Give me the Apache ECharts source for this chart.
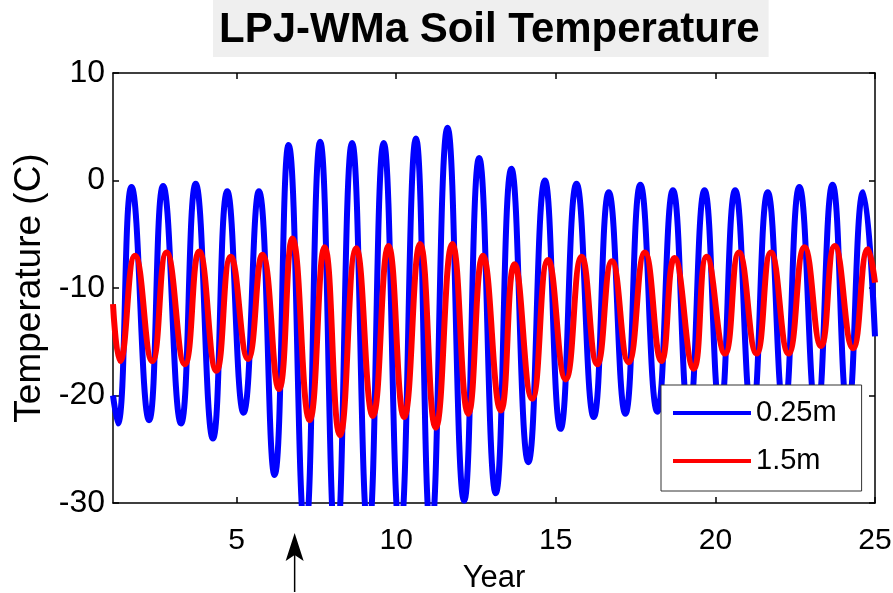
<!DOCTYPE html>
<html>
<head>
<meta charset="utf-8">
<title>LPJ-WMa Soil Temperature</title>
<script src="https://cdn.jsdelivr.net/npm/echarts@6/dist/echarts.min.js"></script>
<style>
  html, body { margin: 0; padding: 0; background: #ffffff; }
  #chart { width: 893px; height: 593px; }
</style>
</head>
<body>
<div id="chart"></div>
<script>
// Seasonal extremes (warmest / coldest points) of soil temperature, in degrees C,
// with the first and last sample of the record.
const shallowYears = [1.13, 1.28, 1.71, 2.26, 2.70, 3.26, 3.72, 4.26, 4.71, 5.22, 5.70, 6.19, 6.63,
  7.15, 7.62, 8.12, 8.62, 9.13, 9.61, 10.12, 10.62, 11.09, 11.61, 12.13, 12.60, 13.12, 13.61,
  14.14, 14.66, 15.15, 15.65, 16.19, 16.66, 17.18, 17.65, 18.18, 18.67, 19.17, 19.66, 20.15,
  20.62, 21.15, 21.64, 22.15, 22.63, 23.17, 23.67, 24.15, 24.63, 25.0];
const shallowTemps = [-20.0, -22.6, -0.6, -22.3, -0.5, -22.6, -0.3, -24.0, -1.0, -21.6, -1.0, -27.4, 3.3,
  -33.0, 3.6, -34.5, 3.5, -33.0, 3.5, -33.0, 3.9, -33.0, 4.9, -29.8, 2.1, -29.1, 1.1,
  -26.2, 0.0, -23.1, -0.3, -22.0, -1.1, -21.7, -0.4, -21.5, -0.9, -22.0, -0.9, -21.5,
  -0.9, -22.0, -1.1, -21.5, -0.6, -22.0, -0.4, -21.5, -1.1, -14.5];

const deepYears = [1.13, 1.35, 1.82, 2.36, 2.81, 3.38, 3.83, 4.37, 4.82, 5.36, 5.81, 6.33, 6.75,
  7.29, 7.76, 8.24, 8.75, 9.27, 9.76, 10.25, 10.75, 11.24, 11.76, 12.26, 12.72, 13.28, 13.71,
  14.26, 14.76, 15.31, 15.81, 16.30, 16.76, 17.28, 17.79, 18.31, 18.72, 19.32, 19.73, 20.30,
  20.74, 21.29, 21.74, 22.29, 22.79, 23.31, 23.74, 24.31, 24.78, 25.0];
const deepTemps = [-11.5, -16.8, -7.0, -16.8, -6.7, -17.1, -6.6, -17.7, -7.1, -16.6, -6.9, -19.4, -5.4,
  -22.3, -6.2, -23.7, -6.3, -21.9, -6.1, -22.0, -5.9, -23.0, -5.9, -21.7, -7.0, -21.4, -7.8,
  -20.3, -7.4, -18.5, -7.1, -17.1, -7.5, -16.9, -6.7, -16.8, -7.2, -17.5, -7.1, -16.1,
  -6.7, -16.1, -6.7, -16.1, -6.2, -15.4, -6.1, -15.6, -6.4, -9.5];

const seriesNames = ['0.25m', '1.5m'];
const seriesColors = ['#0000ff', '#ff0000'];
const yearTicks = [5, 10, 15, 20, 25];
const yearRange = [1.13, 25];
const tempRange = [-30, 10];
const tempStep = 10;
const markerYear = 6.82;

const pairs = (xs, ys) => xs.map((x, i) => [x, ys[i]]);
const FONT = 'Liberation Sans, Arial, Helvetica, sans-serif';

const chart = echarts.init(document.getElementById('chart'), null, { renderer: 'canvas' });

const axisLine = { show: true, onZero: false, lineStyle: { color: '#000', width: 1.5 } };
const innerTick = (vals) => ({ show: true, inside: true, length: 6, lineStyle: { color: '#000', width: 1.5 }, customValues: vals });

const option = {
  animation: false,
  backgroundColor: '#ffffff',
  title: {
    text: 'LPJ-WMa Soil Temperature',
    left: 213,
    top: 0,
    padding: [9, 9, 6, 6],
    backgroundColor: '#efefef',
    textStyle: { fontFamily: FONT, fontSize: 42, fontWeight: 'bold', color: '#000' }
  },
  grid: { left: 113, right: 18, top: 73, bottom: 90, outerBoundsMode: 'none' },
  legend: {
    orient: 'vertical',
    left: 661,
    top: 385,
    padding: [13, 25, 15, 12],
    itemGap: 18,
    itemWidth: 78,
    itemHeight: 4,
    icon: 'rect',
    backgroundColor: '#ffffff',
    borderColor: '#333333',
    borderWidth: 1,
    borderRadius: 0,
    textStyle: { fontFamily: FONT, fontSize: 29, color: '#000', lineHeight: 30 },
    data: seriesNames
  },
  xAxis: [
    {
      type: 'value',
      min: yearRange[0],
      max: yearRange[1],
      name: 'Year',
      nameLocation: 'middle',
      nameGap: 60,
      nameTextStyle: { fontFamily: FONT, fontSize: 31, color: '#000' },
      axisLine: axisLine,
      axisTick: innerTick(yearTicks),
      axisLabel: { fontFamily: FONT, fontSize: 30, color: '#000', margin: 23, customValues: yearTicks },
      splitLine: { show: false }
    },
    {
      type: 'value',
      position: 'top',
      min: yearRange[0],
      max: yearRange[1],
      axisLine: axisLine,
      axisTick: innerTick(yearTicks),
      axisLabel: { show: false, customValues: yearTicks },
      splitLine: { show: false }
    }
  ],
  yAxis: [
    {
      type: 'value',
      min: tempRange[0],
      max: tempRange[1],
      interval: tempStep,
      name: 'Temperature (C)',
      nameLocation: 'middle',
      nameGap: 64,
      nameTextStyle: { fontFamily: FONT, fontSize: 37, color: '#000' },
      axisLine: axisLine,
      axisTick: { show: true, inside: true, length: 6, lineStyle: { color: '#000', width: 1.5 } },
      axisLabel: { fontFamily: FONT, fontSize: 32, color: '#000', margin: 8 },
      splitLine: { show: false }
    },
    {
      type: 'value',
      position: 'right',
      min: tempRange[0],
      max: tempRange[1],
      interval: tempStep,
      axisLine: axisLine,
      axisTick: { show: true, inside: true, length: 6, lineStyle: { color: '#000', width: 1.5 } },
      axisLabel: { show: false },
      splitLine: { show: false }
    }
  ],
  series: [
    {
      name: seriesNames[0],
      type: 'line',
      data: pairs(shallowYears, shallowTemps),
      smooth: 0.5,
      showSymbol: false,
      clip: true,
      color: seriesColors[0],
      lineStyle: { color: seriesColors[0], width: 6 },
      z: 2
    },
    {
      name: seriesNames[1],
      type: 'line',
      data: pairs(deepYears, deepTemps),
      smooth: 0.5,
      showSymbol: false,
      clip: true,
      color: seriesColors[1],
      lineStyle: { color: seriesColors[1], width: 6 },
      z: 3
    }
  ]
};

chart.setOption(option);

// Upward arrow under the year axis marking the start of the warm period.
const ax = chart.convertToPixel({ xAxisIndex: 0 }, markerYear);
const axisBottom = chart.convertToPixel({ yAxisIndex: 0 }, tempRange[0]);
chart.setOption({
  graphic: [
    {
      type: 'group',
      x: ax,
      y: axisBottom,
      silent: true,
      children: [
        { type: 'line', shape: { x1: 0, y1: 50, x2: 0, y2: 89 }, style: { stroke: '#000', lineWidth: 1.5 } },
        { type: 'polygon', shape: { points: [[0, 30], [-9, 58], [0, 52], [9, 58]] }, style: { fill: '#000' } }
      ]
    }
  ]
});
</script>
</body>
</html>
